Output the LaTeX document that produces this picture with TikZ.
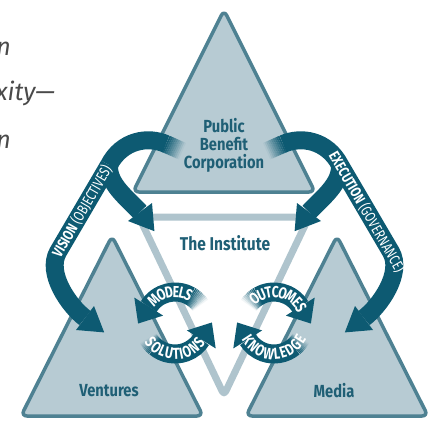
\documentclass[tikz,border=0pt]{standalone}
\usepackage{fontspec}
\newfontfamily\lblfont[FakeStretch=0.84]{Fira Sans}
\newfontfamily\narrowfont[FakeStretch=0.76]{Fira Sans}
\newfontfamily\plainfira{Fira Sans}
\usetikzlibrary{decorations.text}
\definecolor{arrowc}{HTML}{0D5A72}
\definecolor{trifill}{HTML}{B7CBD3}
\definecolor{triline}{HTML}{4E8192}
\definecolor{instline}{HTML}{AFC4CD}
\definecolor{labelc}{HTML}{1F5F75}
\definecolor{fragc}{HTML}{4A4A4A}
\newcommand\myarcfont{\narrowfont\bfseries\fontsize{16}{16}\selectfont}
\tikzset{
  tri/.style={fill=trifill, draw=triline, line width=3.5pt, rounded corners=6pt, line join=round},
  instband/.style={draw=instline, fill=white, line width=7pt, rounded corners=4pt, line join=round},
  band/.style={draw=arrowc, line width=18pt},
  sband/.style={draw=arrowc, line width=19pt},
  headfill/.style={fill=arrowc},
  lbl/.style={font=\lblfont\bfseries\fontsize{17.5}{18}\selectfont, text=labelc, align=center, inner sep=0pt},
  bandtxt/.style={font=\narrowfont\bfseries\fontsize{15}{15}\selectfont, text=white, inner sep=0pt},
  frag/.style={font=\plainfira\itshape\fontsize{25}{25}\selectfont, text=fragc, inner sep=0pt, anchor=base east},
  arctxt/.style={font=\myarcfont, decorate, decoration={text along path, text color=white, text align=center, raise=-5.4pt, text={#1}}}
}
\newcommand\sidearrows{%
  % common band leaving the Public Benefit Corporation
  \foreach \i in {0,...,9}{%
    \pgfmathsetmacro\xa{166+1.64*\i}\pgfmathsetmacro\ya{144+0.72*\i}%
    \pgfmathsetmacro\xb{166+1.64*(\i+1)}\pgfmathsetmacro\yb{144+0.72*(\i+1)}%
    \pgfmathsetmacro\op{1-(\i+0.5)/10}%
    \draw[band, draw opacity=\op] (\xa,\ya) -- (\xb,\yb);}
  \draw[band] (166,144) .. controls (148,136) and (122,140) .. (109,165);
  % branch curving back to the Institute
  \draw[band] (109,165) .. controls (108,184) and (126,197) .. (140,212);
  \fill[headfill] (128,221) -- (154.4,231.2) -- (152,203) -- cycle;
  % branch running down to the lower triangle
  \draw[band] (109,165) -- (58,252) .. controls (46,273) and (69,306) .. (85,318);
  \fill[headfill] (94,306) -- (104.2,332.4) -- (76,330) -- cycle;
  % small cycle
  \begin{scope}[shift={(175,323)}]
    \foreach \i in {0,...,9}{%
      \pgfmathsetmacro\a{325-2.5*\i}\pgfmathsetmacro\b{325-2.5*(\i+1)}\pgfmathsetmacro\op{(\i+0.5)/10}%
      \draw[sband, draw opacity=\op] (\a:31) arc (\a:\b:31);}
    \draw[sband] (300:31) arc (300:212:31);
    \fill[headfill] (212:14) -- (-36.89,0.53) -- (212:48) -- cycle;
    \foreach \i in {0,...,9}{%
      \pgfmathsetmacro\a{150-2*\i}\pgfmathsetmacro\b{150-2*(\i+1)}\pgfmathsetmacro\op{(\i+0.5)/10}%
      \draw[sband, draw opacity=\op] (\a:31) arc (\a:\b:31);}
    \draw[sband] (130:31) arc (130:32:31);
    \fill[headfill] (32:14) -- (36.89,-0.53) -- (32:48) -- cycle;
  \end{scope}
}
\begin{document}
\begin{tikzpicture}[x=1pt,y=-1pt]
  \useasboundingbox (0,0) rectangle (433,421);
  \clip (0,0) rectangle (433,421);
  % fragment of surrounding text
  \node[frag] (f1) at (11,55) {n};
  \node[frag] (f2) at (55,100) {xity—};
  \node[frag] (f3) at (11,148) {n};
  % the Institute (inverted triangle)
  \draw[instband] (139,217) -- (309,217) -- (224,395) -- cycle;
  % three triangles
  \draw[tri] (224,10) -- (315,192) -- (133,192) -- cycle;
  \draw[tri] (112,236) -- (203,416) -- (21,416) -- cycle;
  \draw[tri] (337,236) -- (428,416) -- (246,416) -- cycle;
  % arrows
  \sidearrows
  \begin{scope}[xshift=449pt, xscale=-1]
    \sidearrows
  \end{scope}
  % labels
  \node[lbl] (pbc) at (224,145) {Public\\Benefit\\Corporation};
  \node[lbl] (inst) at (225,243) {\fontsize{18.5}{19}\selectfont The Institute};
  \node[lbl] (vent) at (109,391) {Ventures};
  \node[lbl] (media) at (334,391) {Media};
  \node[bandtxt, rotate=60] (vis) at (82,211) {VISION \mdseries(OBJECTIVES)};
  \node[bandtxt, rotate=-60] (exe) at (367,212) {EXECUTION \mdseries(GOVERNANCE)};
  % arc labels
  \path[arctxt={|\myarcfont|MODELS}] (175,323) ++(200:31) arc (200:320:31);
  \path[arctxt={|\myarcfont|SOLUTIONS}] (175,323) ++(175:31) arc (175:5:31);
  \path[arctxt={|\myarcfont|OUTCOMES}] (274,323) ++(220:31) arc (220:340:31);
  \path[arctxt={|\myarcfont|KNOWLEDGE}] (274,323) ++(175:31) arc (175:5:31);
\end{tikzpicture}
\end{document}
